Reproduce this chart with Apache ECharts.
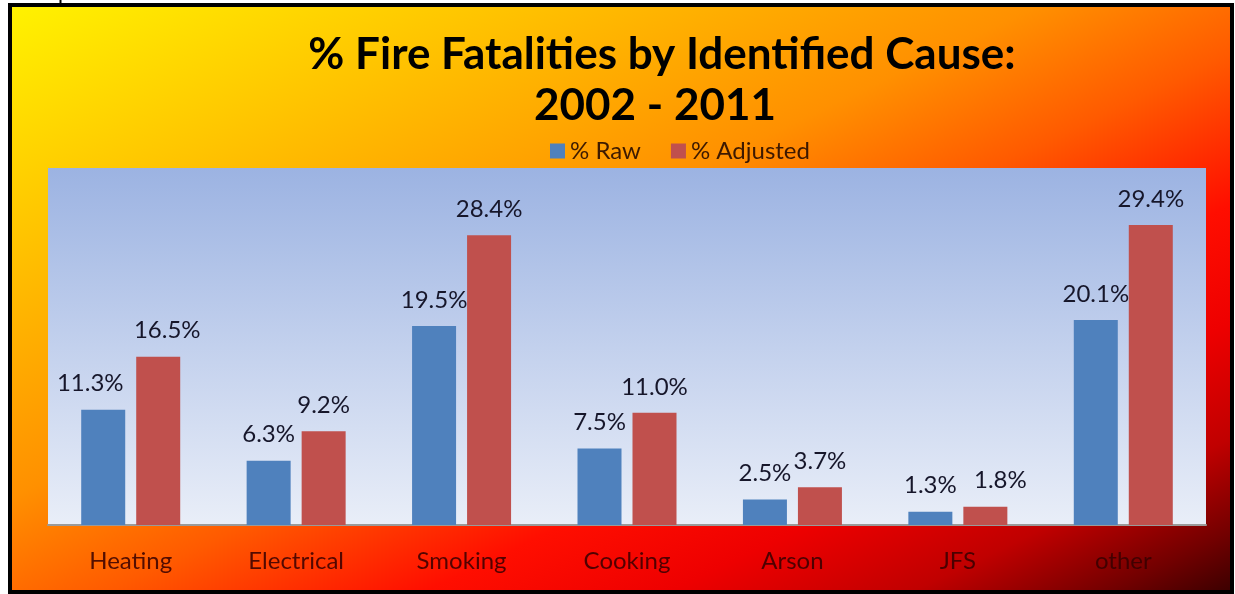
<!DOCTYPE html>
<html>
<head>
<meta charset="utf-8">
<title>% Fire Fatalities by Identified Cause: 2002 - 2011</title>
<script src="https://cdn.jsdelivr.net/npm/echarts@6/dist/echarts.min.js"></script>
<style>
  html, body { margin: 0; padding: 0; background: #ffffff; }
  #chart { width: 1235px; height: 594px; }
</style>
</head>
<body>
<div id="chart"></div>
<script>
// Causes along the x axis
const categories = ['Heating', 'Electrical', 'Smoking', 'Cooking', 'Arson', 'JFS', 'other'];
// Share of fire fatalities per cause, in percent
const rawPct = [11.3, 6.3, 19.5, 7.5, 2.5, 1.3, 20.1];
const adjustedPct = [16.5, 9.2, 28.4, 11.0, 3.7, 1.8, 29.4];
const seriesNames = ['% Raw', '% Adjusted'];
const titleLines = ['% Fire Fatalities by Identified Cause:', '2002 - 2011'];

// Hand-placed value labels: horizontal nudge in px per category
const rawLabelNudge = [-13, 0, 0, 0, 0, 0, 0];
const adjustedLabelNudge = [9, 0, 0, 0, 0, 15, 0];

const FONT = 'Lato, "Open Sans", sans-serif';
const chart = echarts.init(document.getElementById('chart'), null, { renderer: 'canvas' });

// Frame: fire-coloured diagonal wash, yellow top-left to deep maroon bottom-right
const fx0 = 12, fy0 = 7, fx1 = 1230, fy1 = 591;
const W = fx1 - fx0, H = fy1 - fy0;
const k = 2 / (1 / (W * W) + 1 / (H * H));
const fireGradient = new echarts.graphic.LinearGradient(
  fx0, fy0, fx0 + k / W, fy0 + k / H,
  [
    { offset: 0.00, color: '#fff200' },
    { offset: 0.20, color: '#ffc400' },
    { offset: 0.42, color: '#ff9000' },
    { offset: 0.54, color: '#ff5a00' },
    { offset: 0.67, color: '#ff0e00' },
    { offset: 0.77, color: '#ee0000' },
    { offset: 0.87, color: '#c00000' },
    { offset: 0.95, color: '#720000' },
    { offset: 1.00, color: '#3c0000' }
  ],
  true
);

const labelStyle = {
  show: true,
  position: 'top',
  distance: 14,
  fontFamily: FONT,
  fontSize: 24,
  color: '#16162a',
  formatter: p => p.value.toFixed(1) + '%'
};

function withNudges(values, nudges) {
  return values.map((v, i) => ({ value: v, label: { offset: [nudges[i], 0] } }));
}

chart.setOption({
  animation: false,
  graphic: [
    {
      type: 'rect', z: -10, silent: true,
      shape: { x: fx0, y: fy0, width: W, height: H },
      style: { fill: fireGradient }
    },
    {
      type: 'rect', z: 100, silent: true,
      shape: { x: 10, y: 5, width: 1222, height: 587 },
      style: { fill: 'none', stroke: '#000000', lineWidth: 4 }
    },
    {
      type: 'line', z: 100, silent: true,
      shape: { x1: 60.5, y1: 0, x2: 60.5, y2: 5 },
      style: { stroke: '#000000', lineWidth: 2 }
    },
    {
      type: 'text', z: 50,
      style: {
        x: 662, y: 55, text: titleLines[0],
        textAlign: 'center', textVerticalAlign: 'middle',
        font: 'bold 44px ' + FONT, fill: '#000000'
      }
    },
    {
      type: 'text', z: 50,
      style: {
        x: 655, y: 106, text: titleLines[1],
        textAlign: 'center', textVerticalAlign: 'middle',
        font: 'bold 44px ' + FONT, fill: '#000000'
      }
    }
  ],
  legend: {
    data: seriesNames,
    left: 545,
    top: 134,
    icon: 'rect',
    itemWidth: 15,
    itemHeight: 15,
    itemGap: 30,
    textStyle: { fontFamily: FONT, fontSize: 24, color: 'rgba(40,12,0,0.9)' }
  },
  grid: {
    show: true,
    left: 48, right: 29, top: 168, bottom: 69,
    borderWidth: 0,
    backgroundColor: new echarts.graphic.LinearGradient(0, 0, 0, 1, [
      { offset: 0, color: '#9cb3e2' },
      { offset: 1, color: '#e9eef8' }
    ])
  },
  xAxis: {
    type: 'category',
    data: categories,
    axisLine: { lineStyle: { color: '#9a9a9a', width: 2 } },
    axisTick: { show: false },
    axisLabel: {
      margin: 24,
      fontFamily: FONT,
      fontSize: 24,
      color: 'rgba(55,0,0,0.86)'
    }
  },
  yAxis: {
    type: 'value',
    min: 0,
    max: 35,
    show: false,
    splitLine: { show: false }
  },
  series: [
    {
      name: seriesNames[0],
      type: 'bar',
      data: withNudges(rawPct, rawLabelNudge),
      barWidth: 44,
      barGap: '25%',
      itemStyle: { color: '#4f81bd' },
      label: labelStyle
    },
    {
      name: seriesNames[1],
      type: 'bar',
      data: withNudges(adjustedPct, adjustedLabelNudge),
      barWidth: 44,
      itemStyle: { color: '#c0504d' },
      label: labelStyle
    }
  ]
});
</script>
</body>
</html>
